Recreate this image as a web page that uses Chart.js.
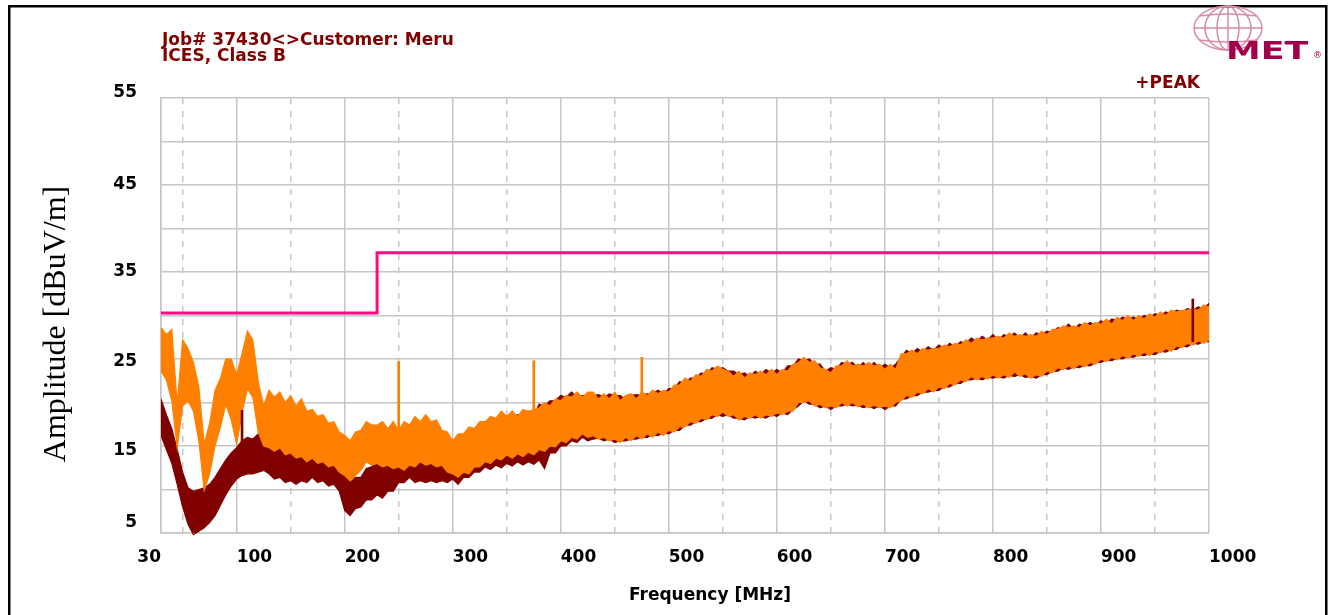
<!DOCTYPE html>
<html>
<head>
<meta charset="utf-8">
<title>Job# 37430 - ICES, Class B</title>
<script src="https://cdn.jsdelivr.net/npm/chart.js@4.4.1/dist/chart.umd.min.js"></script>
<style>
  html, body { margin: 0; padding: 0; background: #fff; }
  #wrap { width: 1330px; height: 615px; }
</style>
</head>
<body>
<div id="wrap"><canvas id="scan" width="1330" height="615"></canvas></div>
<script>
// Radiated emissions scan, +PEAK detector, two antenna traces + limit.

const headerLines = ['Job# 37430<>Customer: Meru', 'ICES, Class B'];
const detectorLabel = '+PEAK';
const xTitle = 'Frequency [MHz]';
const yTitle = 'Amplitude [dBuV/m]';

const xTicks = [30, 100, 200, 300, 400, 500, 600, 700, 800, 900, 1000];
const xMinorTicks = [50, 150, 250, 350, 450, 550, 650, 750, 850, 950];
const yTickLabels = [5, 15, 25, 35, 45, 55];

// sample frequencies (MHz), 5 MHz apart
const freqMHz = [
  30, 35, 40, 45, 50, 55, 60, 65, 70, 75,
  80, 85, 90, 95, 100, 105, 110, 115, 120, 125,
  130, 135, 140, 145, 150, 155, 160, 165, 170, 175,
  180, 185, 190, 195, 200, 205, 210, 215, 220, 225,
  230, 235, 240, 245, 250, 255, 260, 265, 270, 275,
  280, 285, 290, 295, 300, 305, 310, 315, 320, 325,
  330, 335, 340, 345, 350, 355, 360, 365, 370, 375,
  380, 385, 390, 395, 400, 405, 410, 415, 420, 425,
  430, 435, 440, 445, 450, 455, 460, 465, 470, 475,
  480, 485, 490, 495, 500, 505, 510, 515, 520, 525,
  530, 535, 540, 545, 550, 555, 560, 565, 570, 575,
  580, 585, 590, 595, 600, 605, 610, 615, 620, 625,
  630, 635, 640, 645, 650, 655, 660, 665, 670, 675,
  680, 685, 690, 695, 700, 705, 710, 715, 720, 725,
  730, 735, 740, 745, 750, 755, 760, 765, 770, 775,
  780, 785, 790, 795, 800, 805, 810, 815, 820, 825,
  830, 835, 840, 845, 850, 855, 860, 865, 870, 875,
  880, 885, 890, 895, 900, 905, 910, 915, 920, 925,
  930, 935, 940, 945, 950, 955, 960, 965, 970, 975,
  980, 985, 990, 995, 1000
];

// orange trace: upper / lower edge of the noise band (dBuV/m)
const orangeHi = [
  28.6, 27.8, 28.4, 19.8, 27.2, 26.2, 24.6, 21.8, 15.2, 17.6,
  21.4, 22.8, 25.0, 25.0, 23.2, 25.6, 28.2, 27.2, 22.4, 19.6,
  21.4, 20.6, 21.2, 20.0, 20.8, 19.6, 20.4, 19.0, 19.2, 18.4,
  18.6, 17.6, 17.8, 16.6, 16.2, 15.6, 16.6, 16.8, 17.8, 17.4,
  17.4, 17.8, 17.0, 17.8, 16.8, 17.8, 17.4, 18.4, 17.8, 18.6,
  17.8, 18.0, 16.8, 16.6, 15.6, 16.4, 16.4, 17.2, 17.0, 17.8,
  17.8, 18.4, 18.2, 19.0, 18.4, 19.0, 18.4, 19.2, 19.0, 19.2,
  19.4, 20.0, 19.6, 20.4, 20.2, 20.8, 20.6, 21.2, 20.6, 21.2,
  21.2, 20.4, 21.0, 20.4, 21.2, 20.2, 20.8, 21.0, 20.4, 21.2,
  20.8, 21.4, 21.0, 21.4, 21.2, 22.0, 22.0, 22.8, 22.4, 23.2,
  23.0, 23.8, 23.6, 24.2, 23.8, 23.6, 23.0, 23.6, 22.8, 23.4,
  23.2, 23.6, 23.2, 23.8, 23.2, 23.8, 23.6, 24.4, 24.6, 25.2,
  24.6, 24.8, 24.0, 23.8, 23.4, 24.2, 24.2, 24.8, 24.2, 24.4,
  24.2, 24.6, 24.2, 24.4, 23.8, 24.4, 23.8, 25.6, 25.6, 26.0,
  25.6, 26.2, 26.0, 26.2, 26.2, 26.6, 26.4, 26.8, 26.6, 27.2,
  26.8, 27.4, 27.2, 27.4, 27.4, 27.6, 27.4, 28.0, 27.6, 27.8,
  27.6, 27.8, 27.6, 28.2, 27.8, 28.4, 28.4, 28.8, 28.6, 28.8,
  28.6, 29.2, 28.8, 29.2, 29.0, 29.6, 29.0, 29.8, 29.4, 30.0,
  29.4, 30.0, 29.6, 30.2, 29.8, 30.4, 30.0, 30.6, 30.4, 30.6,
  30.6, 30.8, 30.6, 31.2, 31.0
];
const orangeLo = [
  23.6, 22.6, 20.2, 14.8, 19.6, 20.2, 19.0, 15.6, 9.9, 11.8,
  15.0, 17.2, 19.8, 18.0, 15.2, 18.8, 21.6, 20.6, 16.6, 15.0,
  14.8, 14.4, 14.8, 14.0, 14.2, 13.6, 13.8, 13.2, 13.6, 13.0,
  13.2, 12.6, 12.8, 12.0, 11.6, 11.0, 11.6, 12.2, 13.2, 12.8,
  13.0, 12.6, 12.8, 12.4, 12.6, 12.2, 12.8, 12.6, 13.2, 12.8,
  13.0, 12.6, 12.8, 12.0, 11.8, 11.4, 12.0, 11.8, 12.6, 12.6,
  13.2, 13.0, 13.6, 13.4, 14.0, 13.6, 14.1, 13.8, 14.3, 14.0,
  14.6, 14.4, 15.0, 14.9, 15.6, 15.4, 16.0, 15.8, 16.4, 16.0,
  16.2, 15.8, 16.0, 15.6, 15.8, 15.4, 16.0, 15.6, 16.2, 15.8,
  16.4, 16.0, 16.6, 16.2, 16.8, 16.6, 17.2, 17.2, 17.8, 17.6,
  18.2, 18.0, 18.6, 18.4, 18.9, 18.4, 18.6, 18.0, 18.4, 18.2,
  18.6, 18.2, 18.6, 18.4, 18.8, 18.6, 19.0, 19.0, 20.0, 20.0,
  20.2, 19.6, 19.8, 19.4, 19.6, 19.4, 20.0, 19.6, 20.0, 19.5,
  19.8, 19.4, 19.7, 19.4, 19.6, 19.4, 20.0, 20.2, 20.8, 20.6,
  21.2, 21.0, 21.6, 21.2, 21.8, 21.6, 22.2, 22.0, 22.6, 22.4,
  23.0, 22.6, 23.0, 22.7, 23.2, 22.8, 23.2, 22.9, 23.5, 23.0,
  23.3, 22.8, 23.2, 23.0, 23.6, 23.4, 24.0, 23.8, 24.2, 23.9,
  24.4, 24.1, 24.6, 24.4, 25.0, 24.7, 25.2, 24.9, 25.4, 25.1,
  25.6, 25.3, 25.8, 25.4, 25.9, 25.7, 26.2, 25.9, 26.5, 26.3,
  26.8, 26.6, 27.1, 26.8, 27.2
];

// maroon trace: upper / lower edge of the noise band (dBuV/m)
const maroonHi = [
  20.4, 18.6, 17.0, 14.6, 12.0, 10.2, 9.8, 10.0, 10.2, 10.6,
  11.4, 12.4, 13.4, 14.2, 14.8, 15.6, 16.0, 15.8, 16.4, 17.0,
  15.0, 15.6, 14.8, 15.0, 14.2, 14.6, 13.8, 14.6, 14.2, 14.6,
  13.8, 14.2, 13.4, 13.2, 11.8, 10.8, 11.4, 11.4, 12.4, 12.6,
  13.4, 13.2, 13.8, 13.6, 14.2, 14.0, 14.8, 14.8, 15.4, 15.2,
  15.4, 14.8, 15.0, 14.4, 15.0, 15.0, 15.8, 15.8, 16.8, 16.8,
  17.6, 17.4, 18.0, 17.8, 18.4, 18.2, 18.6, 18.4, 19.0, 18.6,
  19.8, 19.6, 20.2, 20.2, 20.8, 20.6, 21.2, 20.6, 20.8, 20.8,
  20.8, 20.9, 20.6, 21.0, 20.8, 20.8, 20.4, 20.8, 20.9, 20.8,
  21.0, 21.0, 21.4, 21.0, 21.6, 21.6, 22.4, 22.2, 22.8, 22.8,
  23.4, 23.2, 24.0, 23.8, 24.0, 23.6, 23.6, 23.2, 23.4, 23.0,
  23.6, 23.2, 23.8, 23.4, 23.8, 23.4, 24.2, 24.2, 25.0, 24.8,
  25.0, 24.4, 24.4, 23.6, 24.0, 23.8, 24.6, 24.4, 24.6, 24.0,
  24.6, 24.0, 24.6, 24.0, 24.4, 24.0, 24.4, 25.2, 26.0, 25.6,
  26.2, 25.8, 26.4, 26.0, 26.6, 26.2, 26.8, 26.4, 27.0, 26.8,
  27.4, 27.0, 27.6, 27.2, 27.8, 27.2, 27.8, 27.6, 28.0, 27.4,
  28.0, 27.4, 28.0, 27.8, 28.2, 28.0, 28.6, 28.4, 29.0, 28.4,
  29.0, 28.8, 29.2, 28.8, 29.4, 29.0, 29.6, 29.4, 29.8, 29.6,
  29.8, 29.6, 30.0, 29.8, 30.2, 30.0, 30.4, 30.2, 30.6, 30.4,
  30.8, 30.6, 31.0, 30.8, 31.4
];
const maroonLo = [
  16.2, 14.6, 13.0, 10.6, 8.0, 6.0, 4.8, 5.2, 5.6, 6.2,
  7.0, 8.2, 9.4, 10.4, 11.2, 11.6, 11.8, 11.8, 12.0, 12.2,
  11.8, 11.2, 11.4, 10.8, 11.0, 10.6, 11.0, 10.8, 11.4, 10.8,
  11.0, 10.4, 10.6, 9.8, 7.6, 7.0, 7.8, 8.0, 8.8, 8.8,
  9.4, 9.0, 9.8, 9.8, 10.8, 10.8, 11.4, 10.8, 11.0, 10.8,
  11.0, 10.8, 11.0, 10.8, 11.2, 10.6, 11.4, 11.4, 12.0, 12.0,
  12.6, 12.3, 12.8, 12.5, 13.0, 12.7, 13.2, 12.8, 13.2, 12.9,
  13.4, 12.4, 14.2, 14.2, 15.0, 15.0, 15.6, 15.4, 16.0, 15.6,
  15.8, 15.9, 15.6, 15.8, 15.4, 15.6, 15.6, 15.8, 15.8, 16.0,
  16.0, 16.3, 16.2, 16.5, 16.4, 16.8, 16.8, 17.4, 17.4, 17.8,
  17.8, 18.2, 18.2, 18.6, 18.4, 18.6, 18.2, 18.2, 18.0, 18.4,
  18.2, 18.4, 18.2, 18.6, 18.4, 18.8, 18.6, 19.2, 19.6, 20.2,
  19.8, 19.8, 19.4, 19.6, 19.2, 19.6, 19.6, 19.8, 19.6, 19.7,
  19.4, 19.6, 19.3, 19.6, 19.2, 19.6, 19.6, 20.4, 20.4, 20.8,
  20.8, 21.2, 21.2, 21.4, 21.4, 21.8, 21.8, 22.2, 22.2, 22.6,
  22.6, 22.8, 22.6, 22.9, 22.8, 23.0, 22.8, 23.1, 23.0, 23.2,
  22.9, 23.0, 22.8, 23.2, 23.2, 23.6, 23.6, 24.0, 23.8, 24.1,
  24.0, 24.3, 24.2, 24.6, 24.6, 24.9, 24.8, 25.1, 25.0, 25.3,
  25.2, 25.5, 25.4, 25.6, 25.5, 25.9, 25.8, 26.1, 26.1, 26.5,
  26.4, 26.8, 26.7, 27.0, 27.0
];

// narrow single-frequency spikes
const orangeSpikeFreq = [250, 375, 475];
const orangeSpikeLo = [17.0, 19.0, 20.8];
const orangeSpikeHi = [24.7, 24.8, 25.2];
const maroonSpikeFreq = [105, 985];
const maroonSpikeLo = [12.0, 27.0];
const maroonSpikeHi = [19.1, 31.9];

// ICES Class B limit line
const limitFreq = [30, 230, 230, 1000];
const limitLevel = [30.3, 30.3, 37.2, 37.2];

const COLORS = {
  maroon: '#800000',
  orange: '#ff8000',
  limit: '#ff0a84',
  grid: '#c6c6c6',
  text: '#800000',
};

const FONT = '"DejaVu Sans", sans-serif';
const CLIP = { left: 0, top: 0, right: 0, bottom: 6 };

function linePoints(xs, ys) {
  return xs.map((f, i) => ({ x: f, y: ys[i] }));
}
function barPoints(xs, lo, hi) {
  return xs.map((f, i) => ({ x: f, y: [lo[i], hi[i]] }));
}

// band edge: the upper edge fills down to the next (lower) dataset
function bandEdge(label, xs, ys, color, fillNext) {
  return {
    type: 'line',
    label,
    data: linePoints(xs, ys),
    borderColor: color,
    backgroundColor: color,
    borderWidth: 1.2,
    pointRadius: 0,
    tension: 0,
    fill: fillNext ? '+1' : false,
    clip: CLIP,
  };
}

function spikes(label, xs, lo, hi, color) {
  return {
    type: 'bar',
    label,
    data: barPoints(xs, lo, hi),
    backgroundColor: color,
    barThickness: 2,
    grouped: false,
    clip: 0,
  };
}

// label fine-tuning so tick text sits like the original plot
const yLabelShift = { '5': -10, '15': 5, '25': 3, '55': -5 };

const decor = {
  id: 'decor',
  beforeDraw(chart) {
    const xItems = chart.scales.x.getLabelItems();
    if (xItems[0] && xItems[0].options) xItems[0].options.textAlign = 'right';
    chart.scales.y.getLabelItems().forEach(item => {
      const s = yLabelShift[item.label];
      if (s && item.options && item.options.translation) item.options.translation[1] += s;
    });
  },
  afterDraw(chart) {
    const ctx = chart.ctx;
    ctx.save();

    // outer frame
    ctx.strokeStyle = '#000';
    ctx.lineWidth = 2.5;
    ctx.strokeRect(9.25, 6.25, 1317, 640);

    // header + detector
    ctx.fillStyle = COLORS.text;
    ctx.font = 'bold 17px ' + FONT;
    ctx.textBaseline = 'alphabetic';
    ctx.textAlign = 'left';
    ctx.fillText(headerLines[0], 162, 45);
    ctx.fillText(headerLines[1], 162, 61);
    ctx.textAlign = 'right';
    ctx.fillText(detectorLabel, 1200, 88);

    // axis titles
    ctx.fillStyle = '#000';
    ctx.textAlign = 'center';
    ctx.fillText(xTitle, 710, 600);
    ctx.save();
    ctx.translate(57, 324);
    ctx.rotate(-Math.PI / 2);
    ctx.font = '32px "Liberation Serif", serif';
    ctx.textBaseline = 'middle';
    ctx.fillText(yTitle, 0, 0);
    ctx.restore();

    drawLogo(ctx);
    ctx.restore();
  }
};

function drawLogo(ctx) {
  const cx = 1228, cy = 28, rx = 34, ry = 22;
  ctx.save();
  ctx.strokeStyle = '#d98aa8';
  ctx.lineWidth = 1.5;
  ctx.beginPath();
  ctx.ellipse(cx, cy, rx, ry, 0, 0, Math.PI * 2);
  ctx.stroke();
  [23, 11].forEach(r => {
    ctx.beginPath();
    ctx.ellipse(cx, cy, r, ry, 0, 0, Math.PI * 2);
    ctx.stroke();
  });
  ctx.beginPath();
  ctx.moveTo(cx, cy - ry);
  ctx.lineTo(cx, cy + ry);
  ctx.stroke();
  [-12, 0, 12].forEach(dy => {
    const half = rx * Math.sqrt(1 - (dy / ry) * (dy / ry));
    ctx.beginPath();
    ctx.moveTo(cx - half, cy + dy);
    ctx.quadraticCurveTo(cx, cy + dy + (dy === 0 ? 0 : dy * 0.35), cx + half, cy + dy);
    ctx.stroke();
  });
  ctx.translate(1226, 59);
  ctx.scale(1.45, 1);
  ctx.fillStyle = '#a3004c';
  ctx.font = 'bold 24px ' + FONT;
  ctx.textAlign = 'left';
  ctx.textBaseline = 'alphabetic';
  ctx.fillText('MET', 0, 0);
  ctx.restore();
  ctx.fillStyle = '#a3004c';
  ctx.font = '9px ' + FONT;
  ctx.textAlign = 'left';
  ctx.fillText('\u00ae', 1313, 58);
}

const gridStyle = { color: COLORS.grid, lineWidth: 1.5, drawTicks: false };

new Chart(document.getElementById('scan'), {
  type: 'line',
  data: {
    datasets: [
      {
        type: 'line',
        label: 'Limit',
        data: linePoints(limitFreq, limitLevel),
        borderColor: COLORS.limit,
        borderWidth: 3,
        pointRadius: 0,
        fill: false,
        tension: 0,
        clip: 2,
      },
      spikes('Maroon spikes', maroonSpikeFreq, maroonSpikeLo, maroonSpikeHi, COLORS.maroon),
      spikes('Orange spikes', orangeSpikeFreq, orangeSpikeLo, orangeSpikeHi, COLORS.orange),
      bandEdge('Orange high', freqMHz, orangeHi, COLORS.orange, true),
      bandEdge('Orange low', freqMHz, orangeLo, COLORS.orange, false),
      bandEdge('Maroon high', freqMHz, maroonHi, COLORS.maroon, true),
      bandEdge('Maroon low', freqMHz, maroonLo, COLORS.maroon, false),
    ],
  },
  options: {
    responsive: false,
    devicePixelRatio: 1,
    animation: false,
    layout: { padding: { left: 0, top: 98, right: 121, bottom: 0 } },
    plugins: { legend: { display: false }, tooltip: { enabled: false } },
    scales: {
      x: {
        type: 'linear',
        position: 'bottom',
        min: 30,
        max: 1000,
        offset: false,
        grid: { ...gridStyle, offset: false },
        border: { color: COLORS.grid, width: 1.5 },
        afterBuildTicks: s => { s.ticks = xTicks.map(v => ({ value: v })); },
        afterFit: s => { s.height = 82; },
        ticks: {
          align: 'start',
          autoSkip: false,
          maxRotation: 0,
          padding: 14,
          color: '#000',
          font: { family: FONT, size: 17, weight: 'bold' },
          callback: v => String(v),
        },
      },
      x2: {
        type: 'linear',
        position: 'bottom',
        min: 30,
        max: 1000,
        offset: false,
        grid: { color: COLORS.grid, lineWidth: 1.5, drawTicks: false, offset: false, borderDash: [6, 7] },
        border: { display: false, dash: [6, 7] },
        afterBuildTicks: s => { s.ticks = xMinorTicks.map(v => ({ value: v })); },
        afterFit: s => { s.height = 0; },
        ticks: { display: false },
      },
      y: {
        type: 'linear',
        min: 5,
        max: 55,
        beginAtZero: false,
        grid: gridStyle,
        border: { color: COLORS.grid, width: 1.5 },
        afterFit: s => { s.width = 161; },
        ticks: {
          stepSize: 5,
          autoSkip: false,
          padding: 24,
          color: '#000',
          font: { family: FONT, size: 17, weight: 'bold' },
          callback: v => (yTickLabels.includes(v) ? String(v) : ''),
        },
      },
    },
  },
  plugins: [decor],
});
</script>
</body>
</html>
